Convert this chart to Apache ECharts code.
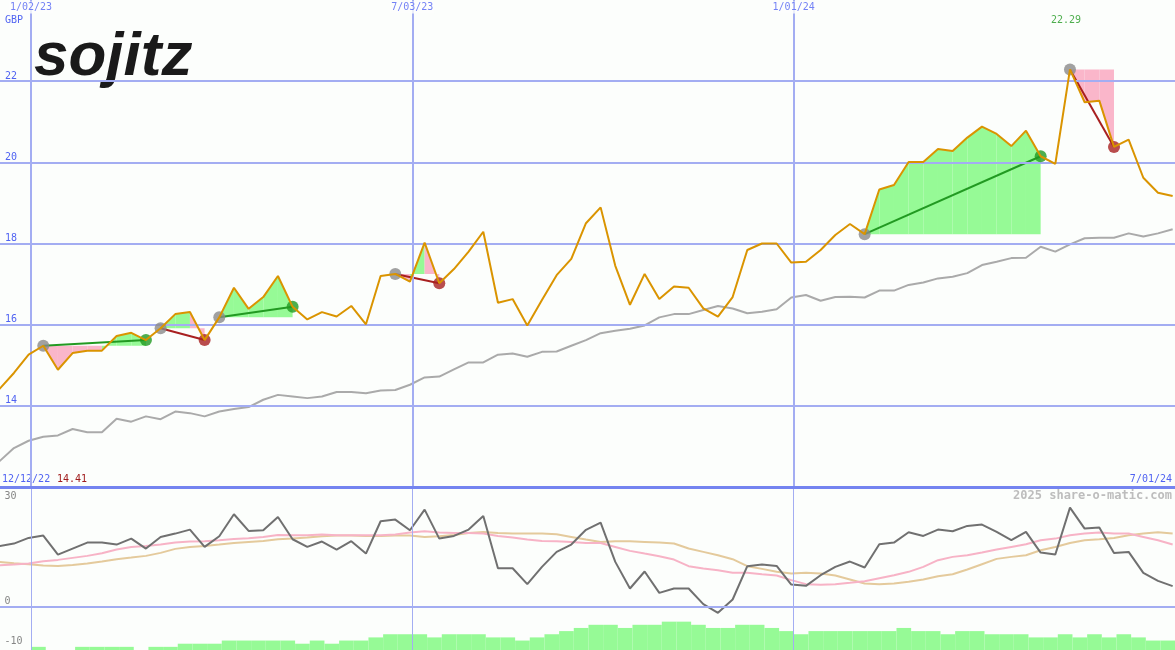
<!DOCTYPE html>
<html><head><meta charset="utf-8">
<style>html,body{margin:0;padding:0;background:#fcfefc;}#c{width:1175px;height:650px;}</style>
<script src="https://cdn.jsdelivr.net/npm/echarts@6.0.0/dist/echarts.min.js"></script>
</head><body><div id="c"></div><script>
// ---- data ----
const startDate = '12/12/22';
const endDate = '7/01/24';
const currency = 'GBP';
const companyName = 'sojitz';
const watermark = '2025 share-o-matic.com';
const dateLabels = ['1/02/23', '7/03/23', '1/01/24'];
const dateWeeks = [3, 29, 55];           // week index (weeks since 12/12/22)
const priceTicks = [14, 16, 18, 20, 22];
const oscTicks = [30, 0, -10];
const price = [14.41,14.81,15.26,15.48,14.89,15.30,15.36,15.36,15.72,15.80,
  15.62,15.91,16.26,16.31,15.62,16.18,16.91,16.39,16.68,17.20,
  16.44,16.13,16.31,16.20,16.46,16.01,17.20,17.25,17.06,18.02,
  17.02,17.37,17.80,18.29,16.54,16.63,15.98,16.61,17.22,17.62,
  18.50,18.89,17.45,16.49,17.25,16.63,16.94,16.91,16.40,16.20,
  16.68,17.84,18.00,18.00,17.53,17.55,17.84,18.21,18.48,18.23,
  19.33,19.44,20.01,20.01,20.33,20.28,20.61,20.88,20.70,20.40,
  20.78,20.15,19.96,22.29,21.48,21.52,20.38,20.56,19.62,19.25,19.17];
const movingAvg = [12.63,12.96,13.14,13.24,13.27,13.43,13.35,13.35,13.68,13.61,
  13.74,13.67,13.86,13.82,13.74,13.86,13.92,13.97,14.15,14.27,
  14.23,14.19,14.23,14.34,14.34,14.31,14.38,14.39,14.52,14.70,
  14.72,14.90,15.07,15.07,15.26,15.29,15.21,15.33,15.34,15.48,
  15.62,15.79,15.85,15.90,15.98,16.18,16.26,16.26,16.36,16.46,
  16.40,16.28,16.32,16.38,16.67,16.73,16.59,16.68,16.69,16.67,
  16.84,16.84,16.98,17.04,17.14,17.18,17.27,17.47,17.55,17.64,
  17.65,17.92,17.80,17.98,18.13,18.14,18.14,18.25,18.17,18.25,18.35];
const oscMain = [15.19,15.86,17.27,17.85,13.11,14.61,16.11,16.11,15.61,17.10,
  14.61,17.52,18.35,19.35,15.02,17.69,23.18,19.02,19.18,22.51,
  16.94,15.02,16.36,14.36,16.44,13.36,21.43,21.85,19.18,24.34,
  17.10,17.77,19.35,22.76,9.70,9.70,5.71,10.03,13.78,15.61,
  19.30,21.10,11.28,4.63,8.87,3.54,4.63,4.63,0.72,-1.45,
  1.88,10.20,10.62,10.28,5.62,5.29,7.95,10.03,11.36,9.87,
  15.69,16.11,18.69,17.77,19.35,18.93,20.27,20.60,18.77,16.69,
  18.77,13.61,13.11,24.84,19.60,19.85,13.53,13.78,8.54,6.54,5.21];
const oscPink = [10.45,10.62,10.87,11.45,11.78,12.28,12.78,13.44,14.36,15.02,
  15.27,15.61,16.11,16.36,16.44,16.69,17.02,17.19,17.52,18.02,
  17.94,17.94,18.10,17.94,17.94,17.94,17.94,18.10,18.60,18.93,
  18.60,18.52,18.52,18.35,17.77,17.35,16.86,16.52,16.44,16.27,
  16.02,16.02,15.02,14.03,13.36,12.70,11.86,10.20,9.62,9.20,
  8.54,8.54,8.20,7.87,6.71,5.71,5.54,5.71,6.04,6.46,
  7.20,7.95,8.79,10.03,11.70,12.53,12.95,13.61,14.36,15.02,
  15.69,16.69,17.10,17.94,18.35,18.60,18.35,18.35,17.52,16.69,15.61];
const oscTan = [11.28,10.95,10.70,10.37,10.28,10.53,10.87,11.36,11.95,12.36,
  12.78,13.53,14.53,15.02,15.27,15.61,16.02,16.27,16.52,16.94,
  17.10,17.35,17.69,17.85,17.85,17.77,17.77,17.85,17.85,17.52,
  17.69,18.02,18.52,18.77,18.52,18.35,18.35,18.35,18.19,17.52,
  16.86,16.27,16.44,16.44,16.27,16.11,15.86,14.61,13.78,12.95,
  11.95,10.20,9.53,8.79,8.37,8.54,8.37,7.87,6.87,5.87,
  5.71,5.87,6.29,6.87,7.70,8.20,9.37,10.70,12.03,12.53,
  12.95,14.19,15.02,16.02,16.69,16.94,17.27,17.94,18.35,18.69,18.35];
const volume = [0,0,0,1,0,0,1,1,1,1,
  0,1,1,2,2,2,3,3,3,3,
  3,2,3,2,3,3,4,5,5,5,
  4,5,5,5,4,4,3,4,5,6,
  7,8,8,7,8,8,9,9,8,7,
  7,8,8,7,6,5,6,6,6,6,
  6,6,7,6,6,5,6,6,5,5,
  5,4,4,5,4,5,4,5,4,3,3];
const trades = [[3,10],[11,14],[15,20],[27,30],[59,71],[73,76]]; // [entry week, exit week]

// ---- layout / style ----
const BG = '#fcfefc';
const X_MIN = 0.05, X_MAX = 80.16, DATE_SHIFT = -0.84;
const GRID_C = '#a3adf2', SEP_C = '#7484f0', LABEL_C = '#5063f2';
const FONT = '"DejaVu Sans Mono", monospace';
const GREEN = '#229a22', RED = '#a82020', GRAYPT = '#8a8a8a';
const GREEN_FILL = '#96fa96', PINK_FILL = '#fab6ca';

const idx = a => a.map((v, i) => [i, v]);
const maxV = Math.max(...price), maxI = price.indexOf(maxV);
const minV = Math.min(...price);

const fillData = [];
trades.forEach(([a, b]) => {
  const L = price[a];
  for (let i = a; i < b; i++) fillData.push([i, i + 1, L, price[i], price[i + 1]]);
});

const noAnim = {animation: false, silent: true};
const ml = (data) => ({symbol: ['none', 'none'], label: {show: false}, silent: true, animation: false,
  emphasis: {disabled: true}, data});

const series = [
  Object.assign({type: 'line', xAxisIndex: 0, yAxisIndex: 0, data: [], z: 1,
    markLine: ml([
      ...dateWeeks.map(w => ({xAxis: w + DATE_SHIFT, lineStyle: {color: GRID_C, width: 2, type: 'solid'}})),
      ...priceTicks.map(v => ({yAxis: v, lineStyle: {color: GRID_C, width: 2, type: 'solid'}}))
    ])}, noAnim),
  Object.assign({type: 'line', xAxisIndex: 1, yAxisIndex: 1, data: [], z: 1,
    markLine: ml([
      ...dateWeeks.map(w => ({xAxis: w + DATE_SHIFT, lineStyle: {color: GRID_C, width: 1, type: 'solid'}})),
      {yAxis: 0, lineStyle: {color: GRID_C, width: 2, type: 'solid'}},
      {yAxis: 30, lineStyle: {color: SEP_C, width: 3, type: 'solid'}}
    ])}, noAnim),
  Object.assign({type: 'custom', xAxisIndex: 0, yAxisIndex: 0, z: 2, data: fillData,
    encode: {x: [0, 1], y: [2, 3, 4]},
    renderItem: (params, api) => {
      const a = api.value(0), b = api.value(1), L = api.value(2), pa = api.value(3), pb = api.value(4);
      return {type: 'polygon', shape: {points: [api.coord([a, L]), api.coord([a, pa]), api.coord([b, pb]), api.coord([b, L])]},
        style: {fill: pb >= L ? GREEN_FILL : PINK_FILL}};
    }}, noAnim),
  Object.assign({type: 'line', xAxisIndex: 0, yAxisIndex: 0, z: 3, data: idx(movingAvg), symbol: 'none',
    lineStyle: {color: '#aaaaaa', width: 2}}, noAnim),
  ...trades.map(([a, b]) => Object.assign({type: 'line', xAxisIndex: 0, yAxisIndex: 0, z: 4,
    data: [[a, price[a]], [b, price[b]]], symbol: 'none',
    lineStyle: {color: price[b] >= price[a] ? GREEN : RED, width: 2}}, noAnim)),
  Object.assign({type: 'scatter', xAxisIndex: 0, yAxisIndex: 0, z: 5, symbolSize: 12,
    data: trades.flatMap(([a, b]) => [
      {value: [a, price[a]], itemStyle: {color: GRAYPT}},
      {value: [b, price[b]], itemStyle: {color: price[b] >= price[a] ? GREEN : RED}}])}, noAnim),
  Object.assign({type: 'line', xAxisIndex: 0, yAxisIndex: 0, z: 6, data: idx(price), symbol: 'none',
    lineStyle: {color: '#da9400', width: 2}}, noAnim),
  Object.assign({type: 'scatter', xAxisIndex: 0, yAxisIndex: 0, z: 10, clip: false, symbolSize: 1,
    itemStyle: {color: 'rgba(0,0,0,0)'},
    data: dateWeeks.map((w, k) => ({value: [w + DATE_SHIFT, 24], label: {formatter: dateLabels[k]}})),
    label: {show: true, position: 'bottom', distance: 1, color: LABEL_C, fontFamily: FONT, fontSize: 10,
      backgroundColor: BG, padding: [1, 1]}}, noAnim),
  Object.assign({type: 'scatter', xAxisIndex: 0, yAxisIndex: 0, z: 10, clip: false, symbolSize: 1,
    itemStyle: {color: 'rgba(0,0,0,0)'},
    data: [{value: [maxI, 24], label: {formatter: maxV.toFixed(2)}}],
    label: {show: true, position: 'bottom', distance: 15, offset: [-4, 0], color: GREEN, fontFamily: FONT, fontSize: 10}}, noAnim),
  // bottom panel
  Object.assign({type: 'custom', xAxisIndex: 1, yAxisIndex: 2, z: 2, data: idx(volume),
    encode: {x: 0, y: 1},
    renderItem: (params, api) => {
      const j = api.value(0), v = api.value(1);
      const p0 = api.coord([j - 0.83, 0]), p1 = api.coord([j + 0.17, v]);
      return {type: 'rect', shape: {x: p0[0], y: p1[1], width: p1[0] - p0[0], height: p0[1] - p1[1]},
        style: {fill: GREEN_FILL}};
    }}, noAnim),
  Object.assign({type: 'line', xAxisIndex: 1, yAxisIndex: 1, z: 3, data: idx(oscTan), symbol: 'none',
    lineStyle: {color: '#e4ca9c', width: 2}}, noAnim),
  Object.assign({type: 'line', xAxisIndex: 1, yAxisIndex: 1, z: 3, data: idx(oscPink), symbol: 'none',
    lineStyle: {color: '#f7b3c6', width: 2}}, noAnim),
  Object.assign({type: 'line', xAxisIndex: 1, yAxisIndex: 1, z: 4, data: idx(oscMain), symbol: 'none',
    lineStyle: {color: '#707070', width: 2}}, noAnim),
  Object.assign({type: 'scatter', xAxisIndex: 1, yAxisIndex: 1, z: 10, clip: false, symbolSize: 1,
    itemStyle: {color: 'rgba(0,0,0,0)'},
    data: oscTicks.map(v => ({value: [X_MIN, v], label: {offset: [0, v === 30 ? 9 : -6]}})),
    label: {show: true, position: 'right', distance: 4, color: '#666', fontFamily: FONT, fontSize: 10,
      formatter: p => String(p.value[1])}}, noAnim)
];

const chart = echarts.init(document.getElementById('c'), null, {renderer: 'canvas'});
chart.setOption({
  backgroundColor: BG,
  animation: false,
  grid: [{left: 0, right: 0, top: 0, height: 487}, {left: 0, right: 0, top: 487, height: 163}],
  xAxis: [
    {type: 'value', gridIndex: 0, min: X_MIN, max: X_MAX, show: false},
    {type: 'value', gridIndex: 1, min: X_MIN, max: X_MAX, show: false}
  ],
  yAxis: [
    {type: 'value', gridIndex: 0, min: 12, max: 24, interval: 2,
      axisLine: {show: false}, axisTick: {show: false}, splitLine: {show: false},
      axisLabel: {inside: true, margin: 5, verticalAlign: 'bottom', align: 'left', color: LABEL_C,
        fontFamily: FONT, fontSize: 10, showMinLabel: false, showMaxLabel: false}},
    {type: 'value', gridIndex: 1, min: -10.75, max: 30, show: false},
    {type: 'value', gridIndex: 1, min: 0, max: 51.75, show: false}
  ],
  graphic: [
    {type: 'group', z: 100, children: [
      {type: 'rect', shape: {x: 35, y: 30, width: 156, height: 58}, style: {fill: BG}},
      {type: 'text', style: {text: companyName, x: 34, y: 58, verticalAlign: 'middle',
        font: 'italic bold 62px "Liberation Sans", Arial, sans-serif', fill: '#1a1a1a'}},
      {type: 'text', style: {text: currency, x: 5, y: 20, verticalAlign: 'middle', font: '10px ' + FONT, fill: LABEL_C}},
      {type: 'text', style: {text: startDate, x: 2, y: 479, verticalAlign: 'middle', font: '10px ' + FONT, fill: LABEL_C}},
      {type: 'text', style: {text: minV.toFixed(2), x: 57, y: 479, verticalAlign: 'middle', font: '10px ' + FONT, fill: '#a01c1c'}},
      {type: 'text', style: {text: endDate, x: 1172, y: 479, align: 'right', verticalAlign: 'middle', font: '10px ' + FONT, fill: LABEL_C}},
      {type: 'text', style: {text: watermark, x: 1172, y: 496, align: 'right', verticalAlign: 'middle',
        font: 'bold 12px ' + FONT, fill: '#bdbdbd'}}
    ]}
  ],
  series
});
</script></body></html>
